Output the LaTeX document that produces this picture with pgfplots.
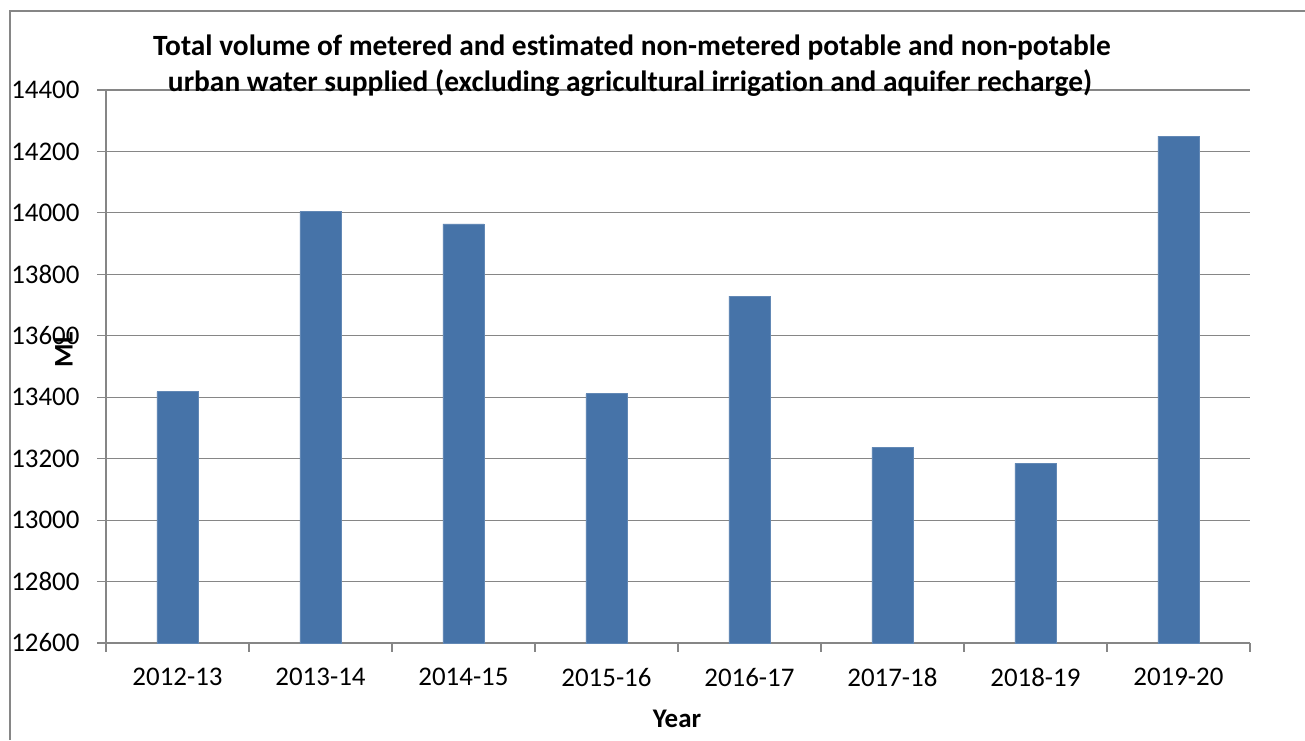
\documentclass[border=0pt]{standalone}
\usepackage{fontspec}
\setmainfont{Carlito}[Ligatures=NoCommon]
\usepackage{pgfplots}
\pgfplotsset{compat=1.18}
\definecolor{barblue}{RGB}{70,115,168}
\definecolor{gridgray}{RGB}{134,134,134}
\begin{document}
\begin{tikzpicture}[x=1bp,y=1bp]
\useasboundingbox (0,0) rectangle (1305,740);
\draw[gridgray, line width=1.2bp] (10,0) -- (10,729) -- (1305,729);
\begin{axis}[
  at={(106bp,97bp)}, anchor=south west,
  scale only axis, width=1144bp, height=553bp,
  xmin=-0.5, xmax=7.5, ymin=12600, ymax=14400,
  ytick={12600,12800,...,14400},
  scaled y ticks=false,
  yticklabel={\pgfmathprintnumber[fixed,precision=0,set thousands separator={}]{\tick}},
  xtick={-0.5,0.5,...,7.5}, xticklabels={},
  extra x ticks={0,1,2,3,4,5,6,7},
  extra x tick labels={2012-13,2013-14,2014-15,2015-16,2016-17,2017-18,2018-19,2019-20},
  extra x tick style={major tick length=0pt, grid=none},
  axis x line*=bottom, axis y line*=left,
  tick align=outside, major tick length=9bp,
  axis line style={gridgray, line width=1.2bp, -},
  tick style={gridgray, line width=1.2bp},
  ymajorgrids, grid style={gridgray, line width=1.2bp},
  /pgf/number format/assume math mode=true,
  tick label style={font=\fontsize{27}{32}\selectfont, text=black},
  yticklabel style={xshift=-14bp},
  xticklabel style={yshift=-22bp},
  clip=false,
]
\addplot[ybar, bar width=41bp, fill=barblue, draw=barblue!85!white, line width=0.8bp] coordinates {
 (0,13418) (1,14004) (2,13964) (3,13411) (4,13729) (5,13237) (6,13185) (7,14250)
};
\end{axis}
\node[anchor=base, font=\fontsize{29.5}{35}\selectfont\bfseries] at (632,684) {Total volume of metered and estimated non-metered potable and non-potable};
\node[anchor=base, font=\fontsize{29.5}{35}\selectfont\bfseries] at (630,648) {urban water supplied (excluding agricultural irrigation and aquifer recharge)};
\node[rotate=90, font=\fontsize{27}{32}\selectfont\bfseries] at (64,390) {ML};
\node[anchor=base, font=\fontsize{27}{32}\selectfont\bfseries] at (677,13) {Year};
\end{tikzpicture}
\end{document}
